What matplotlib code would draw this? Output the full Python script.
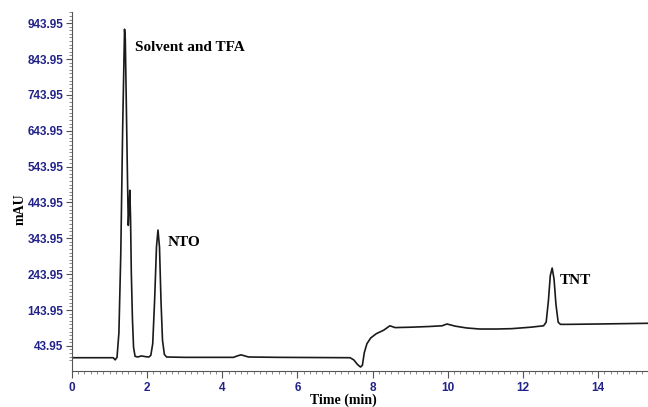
import numpy as np
import matplotlib
matplotlib.use('Agg')
import matplotlib.pyplot as plt
from matplotlib.ticker import MultipleLocator, FixedLocator

# Chromatogram trace (time in min, absorbance in mAU)
time_min = [0.00, 1.10, 1.15, 1.20, 1.25, 1.30, 1.35, 1.40, 1.42, 1.45,
            1.48, 1.50, 1.52, 1.54, 1.56, 1.58, 1.61, 1.64, 1.68, 1.75,
            1.85, 1.95, 2.05, 2.10, 2.15, 2.20, 2.25, 2.29, 2.33, 2.37,
            2.41, 2.46, 2.52, 3.00, 4.30, 4.40, 4.50, 4.60, 4.70, 5.50,
            7.40, 7.50, 7.60, 7.68, 7.73, 7.78, 7.85, 7.95, 8.10, 8.30,
            8.46, 8.60, 9.00, 9.50, 9.85, 9.98, 10.20, 10.50, 10.85, 11.30,
            11.70, 12.20, 12.55, 12.62, 12.68, 12.73, 12.78, 12.83, 12.88, 12.94,
            13.00, 13.20, 14.00, 15.35]
mau = [11, 11, 5, 12, 80, 300, 650, 927, 900, 700,
       500, 380, 420, 478, 400, 250, 120, 40, 15, 13,
       16, 14, 13, 18, 50, 170, 320, 367, 320, 170,
       60, 20, 13, 12, 12, 16, 19, 16, 13, 12,
       11, 5, -8, -15, -10, 25, 50, 66, 78, 88,
       100, 95, 96, 98, 100, 105, 99, 94, 91, 91,
       92, 96, 100, 110, 170, 240, 261, 230, 160, 110,
       104, 104, 105, 107]

ytick_vals = [43.95, 143.95, 243.95, 343.95, 443.95, 543.95, 643.95, 743.95, 843.95, 943.95]
xtick_vals = [0, 2, 4, 6, 8, 10, 12, 14]

peaks = ['Solvent and TFA', 'NTO', 'TNT']
peak_pos = [(1.68, 877), (2.55, 331), (12.99, 225)]

tick_col = '#22228a'
serif = 'Liberation Serif'

fig = plt.figure(figsize=(6.48, 4.07), dpi=100)
ax = fig.add_axes([0.111, 0.0885, 0.889, 0.882])

ax.plot(time_min, mau, color='#1a1a1a', lw=1.2)

for name, (tx, ty) in zip(peaks, peak_pos):
    ax.text(tx, ty, name, fontsize=11, fontweight='bold', family=serif,
            va='center', ha='left')

ax.set_xlim(0, 15.33)
ax.set_ylim(-26, 975)

ax.yaxis.set_major_locator(FixedLocator(ytick_vals))
ax.yaxis.set_minor_locator(FixedLocator(np.arange(3.95, 975, 10)))
ax.set_yticklabels([f'{v:.2f}' for v in ytick_vals])
ax.xaxis.set_major_locator(FixedLocator(xtick_vals))
ax.xaxis.set_minor_locator(MultipleLocator(1 / 6))

for sp in ['top', 'right']:
    ax.spines[sp].set_visible(False)
for sp in ['left', 'bottom']:
    ax.spines[sp].set_color('#555555')
    ax.spines[sp].set_linewidth(0.8)

ax.tick_params(axis='both', which='major', colors='#555555', labelcolor=tick_col,
               labelsize=8.5, length=4, width=0.8, pad=2)
ax.tick_params(axis='both', which='minor', colors='#777777', length=2.5, width=0.6)
ax.tick_params(axis='x', which='major', length=5, pad=3)
for lbl in ax.get_xticklabels() + ax.get_yticklabels():
    lbl.set_fontweight('bold')
    lbl.set_family('Liberation Sans')

ax.set_ylabel('mAU', fontsize=10, fontweight='bold', family=serif)
ax.set_xlabel('Time (min)', fontsize=10, fontweight='bold', family=serif)
ax.yaxis.set_label_coords(-0.078, 0.45)
ax.xaxis.set_label_coords(0.472, -0.064)

fig.savefig('out.png', dpi=100)
